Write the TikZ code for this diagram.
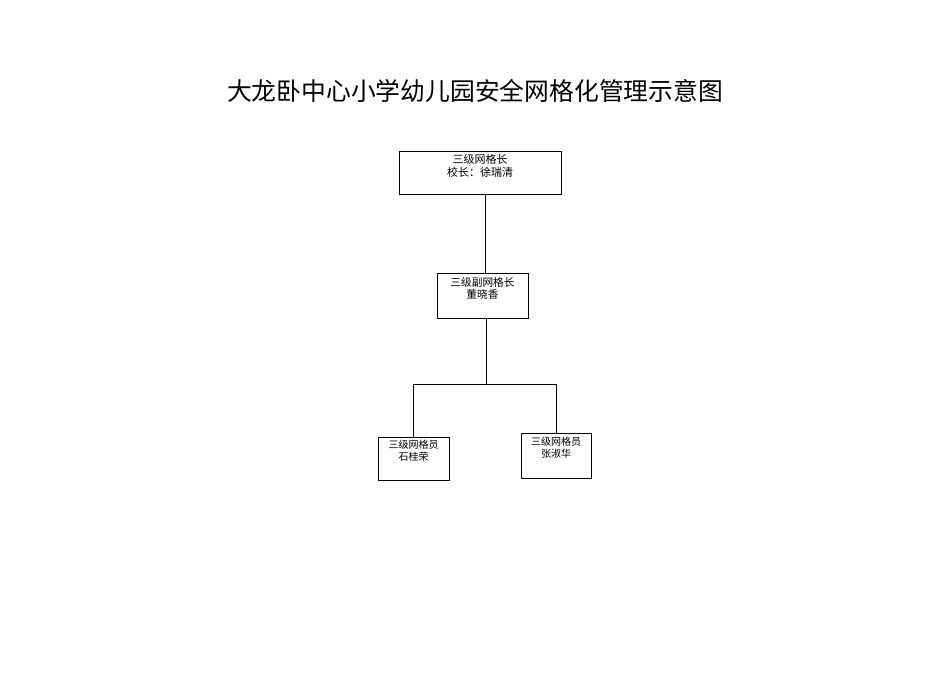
\documentclass[tikz,border=0pt]{standalone}
\usepackage{fontspec}
\newfontfamily\cjk{Noto Sans CJK SC}
\begin{document}
\begin{tikzpicture}[x=1pt,y=-1pt,
  box/.style={draw=black,line width=0.9pt,inner sep=0pt},
  txt/.style={font=\cjk,align=center,inner sep=0pt,anchor=north},
  conn/.style={draw=black,line width=0.8pt}]
\useasboundingbox (0,0) rectangle (950,672);
\node[font=\cjk\fontsize{24.8}{28}\selectfont,inner sep=0pt] (title) at (475,91) {大龙卧中心小学幼儿园安全网格化管理示意图};
% boxes
\node[box,minimum width=162pt,minimum height=43pt] (b1) at (480,172.5) {};
\node[box,minimum width=91pt,minimum height=45pt] (b2) at (482.5,295.5) {};
\node[box,minimum width=71pt,minimum height=43pt] (b3) at (413.5,458.5) {};
\node[box,minimum width=70pt,minimum height=45pt] (b4) at (556,455.5) {};
% texts
\node[txt,font=\cjk\fontsize{11}{13}\selectfont] (t1) at (480,154) {三级网格长\\校长：徐瑞清};
\node[txt,font=\cjk\fontsize{10.7}{12.5}\selectfont] (t2) at (482.5,277) {三级副网格长\\董晓香};
\node[txt,font=\cjk\fontsize{10}{12}\selectfont] (t3) at (413.5,440) {三级网格员\\石桂荣};
\node[txt,font=\cjk\fontsize{10}{12}\selectfont] (t4) at (556,437) {三级网格员\\张淑华};
% connectors
\coordinate (j) at (486,384);
\coordinate (jl) at (413.5,384);
\coordinate (jr) at (556,384);
\draw[conn] (b1.south -| 485,0) -- (b2.north -| 485,0);
\draw[conn] (b2.south -| j) -- (j);
\draw[conn] (jl) -- (jr);
\draw[conn] (jl) -- (b3.north);
\draw[conn] (jr) -- (b4.north);
\end{tikzpicture}
\end{document}
